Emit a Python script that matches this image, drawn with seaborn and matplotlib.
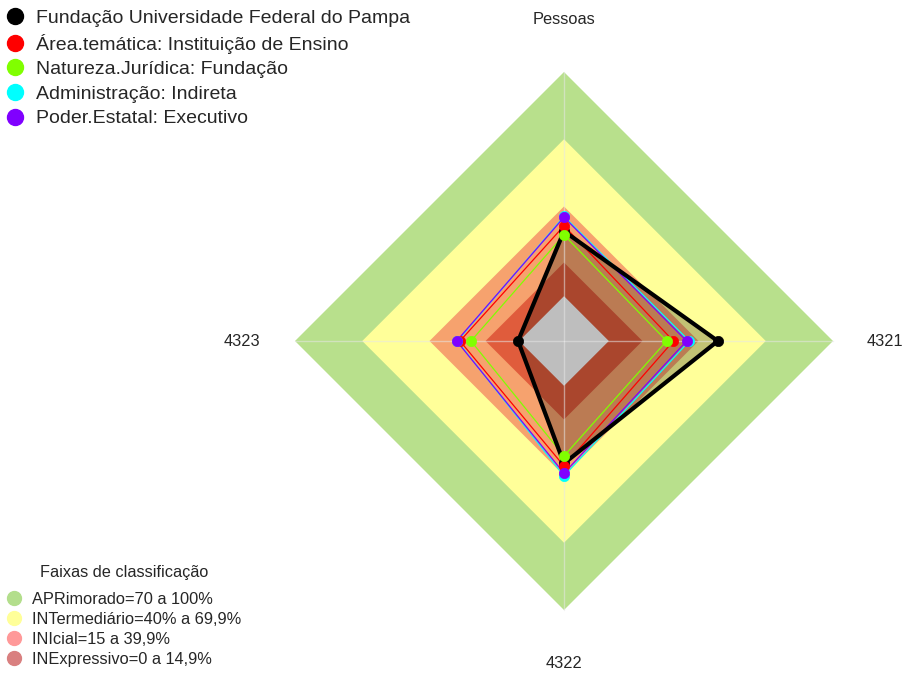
'''
Radar - Fundação Universidade Federal do Pampa
'''

import numpy as np
import pandas as pd
import matplotlib
matplotlib.use('Agg')
import matplotlib.pyplot as plt
from matplotlib.lines import Line2D
import seaborn as sns

sns.set_style('white')
plt.rcParams['font.family'] = ['Liberation Sans', 'DejaVu Sans']

# eixos do radar (ordem: topo, direita, baixo, esquerda)
eixos = ['Pessoas', '4321', '4322', '4323']
angulos = [90, 0, -90, 180]

series = ['Fundação Universidade Federal do Pampa',
          'Área.temática: Instituição de Ensino',
          'Natureza.Jurídica: Fundação',
          'Administração: Indireta',
          'Poder.Estatal: Executivo']
unipampa = [29.0, 48.6, 34.6, 0.5]
area_tematica = [31.4, 28.8, 35.8, 26.4]
natureza = [27.3, 25.8, 31.3, 21.5]
administracao = [35.6, 35.9, 40.2, 27.6]
poder = [35.2, 34.7, 39.0, 27.9]
cores = ['black', '#ff0000', '#80ff00', '#00ffff', '#8000ff']

# faixas de classificação
faixas = ['APRimorado=70 a 100%', 'INTermediário=40% a 69,9%',
          'INIcial=15 a 39,9%', 'INExpressivo=0 a 14,9%']
limites = [100, 70, 40, 15]
cores_faixa = ['#b8e08c', '#ffff99', '#f6a26e', '#e05c3c']
cores_legenda_faixa = ['#b3de8c', '#ffff99', '#ff9999', '#d98080']

SEG = 5  # centro vazio de 1/(SEG+1), como no fmsb


def raio(v):
    return 1.0 / (SEG + 1) + SEG / (SEG + 1) * np.asarray(v) / 100.0


def polar(vals):
    r = raio(vals)
    a = np.deg2rad(angulos)
    return r * np.cos(a), r * np.sin(a)


rows = []
for nome, vals in zip(series, [unipampa, area_tematica, natureza, administracao, poder]):
    x, y = polar(vals)
    for i, e in enumerate(eixos + [eixos[0]]):
        rows.append({'serie': nome, 'eixo': e, 'ordem': i,
                     'x': x[i % 4], 'y': y[i % 4]})
df = pd.DataFrame(rows)

W, H = 902, 673
R = 269.0
cx, cy = 564, 341

fig = plt.figure(figsize=(W / 100, H / 100), dpi=100)
ax = fig.add_axes([0, 0, 1, 1])
ax.axis('off')

# faixas
for lim, c in zip(limites, cores_faixa):
    x, y = polar([lim] * 4)
    ax.fill(x, y, color=c, lw=0, zorder=1)

# área da instituição
x, y = polar(unipampa)
ax.fill(x, y, color='black', alpha=0.24, lw=0, zorder=2)

# centro
x, y = polar([0] * 4)
ax.fill(x, y, color='#bebebe', lw=0, zorder=3)

# eixos
for a in angulos:
    t = np.deg2rad(a)
    ax.plot([0, np.cos(t)], [0, np.sin(t)], color='#e6e6e6', lw=1, alpha=0.55, zorder=4)

# linhas
for nome, c in list(zip(series, cores))[1:] + [(series[0], cores[0])]:
    sub = df[df.serie == nome]
    sns.lineplot(data=sub, x='x', y='y', sort=False, estimator=None, ax=ax,
                 color=c, lw=3.0 if c == 'black' else 0.9, legend=False, zorder=5)

# pontos
for nome, c in zip(series, cores):
    sub = df[(df.serie == nome) & (df.ordem < 4)]
    sns.scatterplot(data=sub, x='x', y='y', ax=ax, color=c, s=55,
                    edgecolor=c, linewidth=0.5, legend=False, zorder=6)

ax.set_xlim(-cx / R, (W - cx) / R)
ax.set_ylim(-(H - cy) / R, cy / R)
ax.set_xlabel('')
ax.set_ylabel('')

# rótulos dos eixos
rot = dict(zip(eixos, [(564, 20), (885, 342), (564, 664), (242, 342)]))
for e in eixos:
    px, py = rot[e]
    fig.text(px / W, 1 - py / H, e, ha='center', va='center', fontsize=11.8)

# legenda das séries
h1 = [Line2D([], [], marker='o', ls='', color=c, markersize=11.5) for c in cores]
leg1 = fig.legend(h1, series, loc='upper left', bbox_to_anchor=(7 / W, 1 - 9 / H),
                  frameon=False, fontsize=14, handlelength=0.8, handletextpad=0.7,
                  labelspacing=0.36, borderpad=0, borderaxespad=0)

# legenda das faixas
fig.text(124 / W, 1 - 572 / H, 'Faixas de classificação', ha='center', va='center',
         fontsize=11.7)
h2 = [Line2D([], [], marker='o', ls='', color=c, markeredgecolor=c, markersize=10)
      for c in cores_legenda_faixa]
leg2 = fig.legend(h2, faixas, loc='lower left', bbox_to_anchor=(7 / W, 6 / H),
                  frameon=False, fontsize=11.8, handlelength=0.9, handletextpad=0.6,
                  labelspacing=0.31, borderpad=0, borderaxespad=0)

fig.savefig('out.png', dpi=100)
